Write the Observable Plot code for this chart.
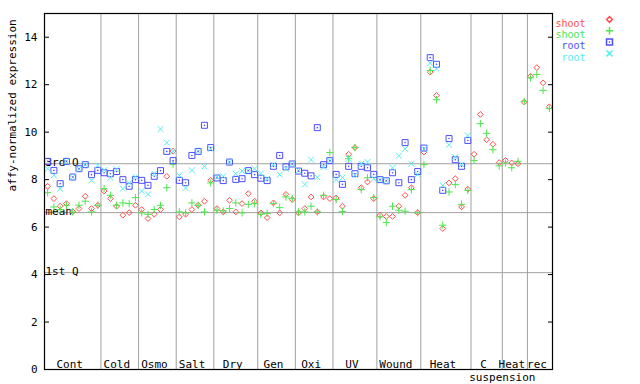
<!DOCTYPE html>
<html><head><meta charset="utf-8">
<script src="https://cdn.jsdelivr.net/npm/d3@7"></script>
<script src="https://cdn.jsdelivr.net/npm/@observablehq/plot@0.6"></script>
<style>body{margin:0;background:#fff;} #chart{width:640px;height:384px;}</style>
</head><body><div id="chart"></div>
<script>
const groups = ["Cont","Cold","Osmo","Salt","Dry","Gen","Oxi","UV","Wound","Heat","C","Heat","rec"];
const groupSub = ["","","","","","","","","","","suspension","",""];
const groupSizes = [9,6,6,6,7,6,6,7,7,8,5,4,4];

const shootRed = [7.72,7.2,6.88,6.99,6.65,6.78,7.30,6.78,6.92,
 7.52,7.2,6.88,6.5,6.61,6.92,
 6.74,6.36,6.54,6.74,8.14,9.2,
 6.43,6.54,6.74,6.92,7.09,7.97,
 6.78,6.64,7.13,6.64,6.99,7.41,7.09,
 6.6,6.4,7.02,6.6,7.38,7.16,
 6.6,6.78,7.27,6.64,7.27,7.2,
 7.23,6.88,9.07,9.35,7.66,7.9,7.2,
 6.5,6.45,6.45,6.88,7.34,7.66,6.61,
 9.16,12.53,11.55,5.94,7.86,8.04,6.85,7.6,
 9.07,10.75,9.68,9.49,8.72,
 8.81,8.7,8.67,11.27,
 12.36,12.72,12.08,11.07];
const shootGreen = [7.45,6.85,6.74,6.92,6.64,6.92,7.09,6.64,6.92,
 7.62,7.34,6.92,7.02,6.99,7.24,
 6.6,6.54,6.74,6.92,7.66,8.65,
 6.64,6.6,7.02,6.92,6.64,7.86,
 6.71,6.68,6.78,7.02,6.6,6.96,6.99,
 6.54,6.57,6.99,6.82,7.27,7.2,
 6.64,6.64,6.88,6.64,7.34,9.14,
 7.16,6.66,8.88,9.35,7.58,8.08,7.24,
 6.43,6.19,6.88,6.71,6.67,7.58,6.6,
 8.63,12.6,11.37,6.08,7.48,7.79,6.96,7.55,
 8.81,10.36,9.95,9.26,8.58,
 8.7,8.5,8.77,11.3,
 12.29,12.43,11.76,11.0];
const rootBlue = [8.77,8.39,7.83,8.77,8.11,8.46,8.63,8.21,8.39,
 8.29,8.25,8.34,8.0,7.72,8.0,
 7.97,7.76,8.14,8.38,9.19,8.8,
 7.97,7.87,9.02,9.19,10.29,9.35,
 8.07,7.96,8.74,8.01,8.04,8.38,8.21,
 8.06,7.96,8.56,9.02,8.54,8.66,
 8.36,8.27,8.16,10.19,8.63,8.8,
 8.22,7.8,8.56,8.25,8.56,8.5,8.22,
 8.0,7.95,8.29,7.87,9.56,8.0,8.34,
 9.33,13.14,12.86,7.55,9.73,8.84,8.56,9.65];
const rootCyan = [8.46,8.18,7.62,8.77,8.1,8.46,8.63,7.97,8.60,
 8.4,8.08,8.44,7.62,7.86,8.11,
 7.52,7.38,8.25,10.13,9.56,9.19,
 8.18,7.65,8.39,9.19,8.56,9.3,
 8.1,8.14,8.74,8.25,8.36,8.38,8.46,
 8.25,8.04,8.63,8.21,8.46,8.66,
 8.38,7.8,8.84,8.1,8.53,8.8,
 8.0,8.09,8.88,8.2,8.67,8.74,8.04,
 8.0,7.95,8.5,9.01,9.3,8.67,8.22,
 9.3,12.91,12.67,7.76,9.47,8.95,8.64,9.86];

const quartileLabels = ["3rd Q","mean","1st Q"];
const quartileValues = [8.67,6.61,4.08];
const yTicks = [0,2,4,6,8,10,12,14];
const yLabel = "affy-normalized expression";

const legendLabels = ["shoot","shoot","root","root"];
const seriesColors = ["#ff4d4d","#4de64d","#4d4dff","#55eeee"];
const seriesSymbols = ["diamond2","plus","square2","times"];
const seriesR = [2.6,2.5,3.8,2.8];

// build tables
const N = groupSizes.reduce((a,b)=>a+b,0);
let s = 0;
const groupRows = groups.map((g,k)=>{const r={label:g, sub:groupSub[k], start:s, end:s+groupSizes[k]}; s+=groupSizes[k]; return r;});
const boundaries = groupRows.slice(0,-1).map(d=>d.end-0.5);
const seriesArrays = [shootRed, shootGreen, rootBlue, rootCyan];
const seriesRows = seriesArrays.map(arr=>arr.map((v,i)=>({i, v})));
const quartileRows = quartileLabels.map((l,k)=>({label:l, v:quartileValues[k]}));

const legendMarks = legendLabels.flatMap((l,k)=>[
  Plot.text([l],{frameAnchor:"top-right", text:d=>d, dx:33, dy:6+k*11.3, fill:seriesColors[k], textAnchor:"end", fontSize:10}),
  Plot.dot([l],{frameAnchor:"top-right", dx:57, dy:6+k*11.3, symbol:seriesSymbols[k], r:seriesR[k], stroke:seriesColors[k], fill:"none"})
].concat(k===2?[Plot.dot([l],{frameAnchor:"top-right", dx:57, dy:6+k*11.3, r:0.8, fill:seriesColors[k], stroke:"none"})]:[]));

const plot = Plot.plot({
  width:640, height:384,
  marginLeft:44, marginRight:88, marginTop:13, marginBottom:15,
  style:{fontFamily:"'DejaVu Sans Mono', monospace", fontSize:"11px", background:"white", color:"black", overflow:"visible"},
  x:{domain:[-0.5, N-0.5], axis:null},
  y:{domain:[0,15]},
  marks:[
    Plot.ruleX(boundaries,{stroke:"#a0a0a0", strokeOpacity:1}),
    Plot.ruleY(quartileValues,{stroke:"#a0a0a0", strokeOpacity:1}),
    Plot.text(quartileRows,{x:()=>-0.5, y:"v", text:"label", textAnchor:"start", lineAnchor:"bottom", dx:1, dy:2}),
    Plot.axisY({ticks:yTicks, tickSize:0, tickPadding:7, label:null}),
    Plot.axisY({ticks:yTicks, tickSize:5, dx:5, text:null, label:null, strokeOpacity:1}),
    Plot.axisY({anchor:"right", ticks:yTicks, tickSize:5, dx:-5, text:null, label:null, strokeOpacity:1}),
    Plot.text([yLabel],{frameAnchor:"left", text:d=>d, rotate:-90, dx:-32}),
    Plot.text(groupRows,{x:d=>(d.start+d.end-1)/2, y:()=>0, text:"label", dy:-5, dx:-3}),
    Plot.text(groupRows.filter(d=>d.sub),{x:d=>d.end-0.5, y:()=>0, text:"sub", dy:8}),
    ...seriesRows.map((rows,k)=>Plot.dot(rows,{x:"i", y:"v", symbol:seriesSymbols[k], r:seriesR[k], stroke:seriesColors[k], fill:"none", strokeWidth:1})),
    Plot.dot(seriesRows[2],{x:"i", y:"v", r:0.8, fill:seriesColors[2], stroke:"none"}),
    Plot.frame({stroke:"black", strokeWidth:1.2}),
    ...legendMarks
  ]
});
document.getElementById("chart").appendChild(plot);
</script>
</body></html>
